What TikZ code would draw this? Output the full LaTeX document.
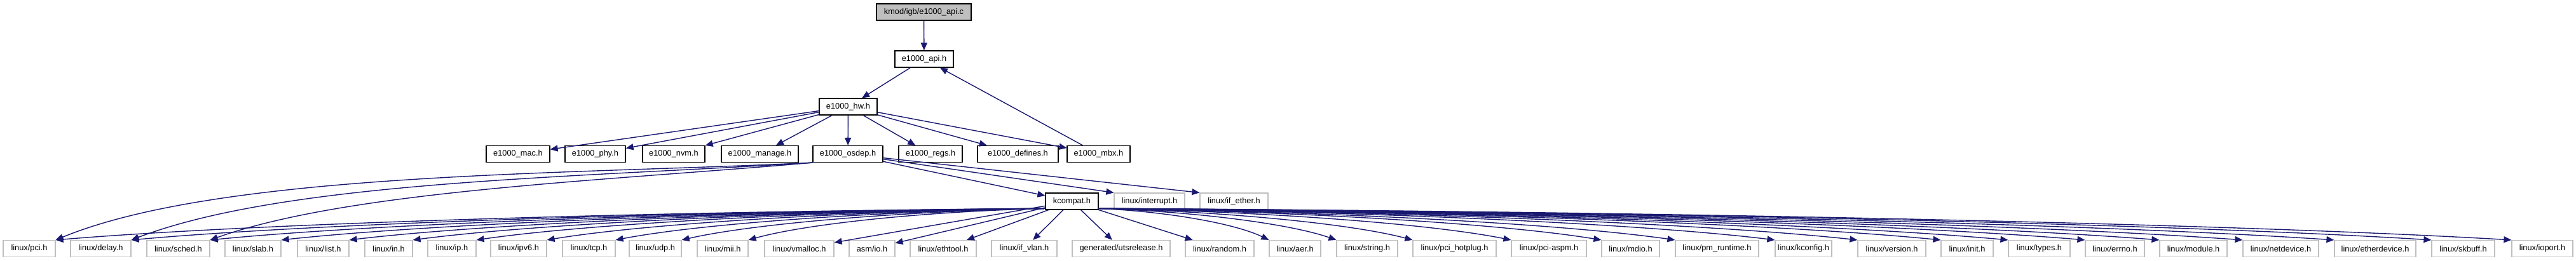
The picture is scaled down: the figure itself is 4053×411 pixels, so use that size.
\documentclass[tikz,border=0pt]{standalone}
\usepackage{fontspec}
\setmainfont{Liberation Sans}
\usetikzlibrary{arrows.meta}
\definecolor{edgecol}{HTML}{191970}
\definecolor{greyc}{HTML}{BFBFBF}
\tikzset{
  base/.style={rectangle, inner sep=0pt, minimum height=13pt, font=\fontsize{6.4pt}{7pt}\selectfont, fill=white},
  mainbox/.style={base, draw=black, line width=0.6pt, fill=greyc},
  doc/.style={base, draw=black, line width=0.6pt},
  undoc/.style={base, draw=greyc, line width=0.6pt},
  edge/.style={draw=edgecol, line width=0.7pt, -{Triangle[length=6pt,width=5pt]}, edgecol}
}
\begin{document}
\begin{tikzpicture}[x=0.5pt, y=-0.5pt]
\useasboundingbox (0,0) rectangle (4053,411);
% top
\node[mainbox, minimum width=74.5pt] (kmod) at (1453.5,19) {kmod/igb/e1000\_api.c};
\node[doc, minimum width=46pt] (api) at (1454,93) {e1000\_api.h};
\node[doc, minimum width=45.5pt] (hw) at (1334.5,168) {e1000\_hw.h};
% row 3
\node[doc, minimum width=50pt] (mac) at (815,242.5) {e1000\_mac.h};
\node[doc, minimum width=47.5pt] (phy) at (936.5,242.5) {e1000\_phy.h};
\node[doc, minimum width=49pt] (nvm) at (1060,242.5) {e1000\_nvm.h};
\node[doc, minimum width=60.5pt] (manage) at (1195.5,242.5) {e1000\_manage.h};
\node[doc, minimum width=55pt] (osdep) at (1334,242.5) {e1000\_osdep.h};
\node[doc, minimum width=50pt] (regs) at (1464,242.5) {e1000\_regs.h};
\node[doc, minimum width=63.5pt] (defines) at (1601.5,242.5) {e1000\_defines.h};
\node[doc, minimum width=49.5pt] (mbx) at (1728.5,242.5) {e1000\_mbx.h};
% row 4
\node[doc, minimum width=41.5pt] (kc) at (1686.5,317) {kcompat.h};
\node[undoc, minimum width=55.5pt] (interrupt) at (1808.5,317) {linux/interrupt.h};
\node[undoc, minimum width=53.5pt] (ifether) at (1941.5,317) {linux/if\_ether.h};
% bottom row
\node[undoc, minimum width=41pt] (pci) at (46,391.5) {linux/pci.h};
\node[undoc, minimum width=47.5pt] (delay) at (158.5,391.5) {linux/delay.h};
\node[undoc, minimum width=49.5pt] (sched) at (280.5,391.5) {linux/sched.h};
\node[undoc, minimum width=44pt] (slab) at (398,391.5) {linux/slab.h};
\node[undoc, minimum width=40.5pt] (list) at (508.5,391.5) {linux/list.h};
\node[undoc, minimum width=37.5pt] (linin) at (611.5,391.5) {linux/in.h};
\node[undoc, minimum width=38pt] (ip) at (711,391.5) {linux/ip.h};
\node[undoc, minimum width=44pt] (ipv6) at (816,391.5) {linux/ipv6.h};
\node[undoc, minimum width=41.5pt] (tcp) at (926.5,391.5) {linux/tcp.h};
\node[undoc, minimum width=41pt] (udp) at (1031,391.5) {linux/udp.h};
\node[undoc, minimum width=40pt] (mii) at (1137,391.5) {linux/mii.h};
\node[undoc, minimum width=54.5pt] (vmalloc) at (1257.5,391.5) {linux/vmalloc.h};
\node[undoc, minimum width=36pt] (asmio) at (1372,391.5) {asm/io.h};
\node[undoc, minimum width=52pt] (ethtool) at (1484,391.5) {linux/ethtool.h};
\node[undoc, minimum width=51.5pt] (ifvlan) at (1611.5,391.5) {linux/if\_vlan.h};
\node[undoc, minimum width=77pt] (uts) at (1764,391.5) {generated/utsrelease.h};
\node[undoc, minimum width=54pt] (random) at (1919,391.5) {linux/random.h};
\node[undoc, minimum width=40.5pt] (aer) at (2037.5,391.5) {linux/aer.h};
\node[undoc, minimum width=48pt] (string) at (2151,391.5) {linux/string.h};
\node[undoc, minimum width=65.5pt] (hotplug) at (2288.5,391.5) {linux/pci\_hotplug.h};
\node[undoc, minimum width=59pt] (aspm) at (2437,391.5) {linux/pci-aspm.h};
\node[undoc, minimum width=45.5pt] (mdio) at (2565.5,391.5) {linux/mdio.h};
\node[undoc, minimum width=65.5pt] (pmrt) at (2701.5,391.5) {linux/pm\_runtime.h};
\node[undoc, minimum width=44.5pt] (kconfig) at (2837.5,391.5) {linux/kconfig.h};
\node[undoc, minimum width=53.5pt] (version) at (2976.5,391.5) {linux/version.h};
\node[undoc, minimum width=41pt] (init) at (3095,391.5) {linux/init.h};
\node[undoc, minimum width=48.5pt] (types) at (3208.5,391.5) {linux/types.h};
\node[undoc, minimum width=46.5pt] (errno) at (3327.5,391.5) {linux/errno.h};
\node[undoc, minimum width=53pt] (module) at (3451,391.5) {linux/module.h};
\node[undoc, minimum width=59.5pt] (netdev) at (3588.5,391.5) {linux/netdevice.h};
\node[undoc, minimum width=64pt] (etherdev) at (3737,391.5) {linux/etherdevice.h};
\node[undoc, minimum width=49.5pt] (skbuff) at (3875.5,391.5) {linux/skbuff.h};
\node[undoc, minimum width=48pt] (ioport) at (4000,391.5) {linux/ioport.h};
% edges top
\draw[edge] (kmod) -- (api);
\draw[edge] (api) -- (hw);
\draw[edge] (mbx) -- (api);
\foreach \n in {mac,phy,nvm,manage,osdep,regs,defines,mbx}
  \draw[edge] (hw) -- (\n);
% osdep edges
\draw[edge] (osdep) -- (kc);
\draw[edge] (osdep) -- (interrupt.north west);
\draw[edge] (osdep) -- (ifether.north west);
\draw[edge] (osdep.south west) .. controls (900,275) and (350,270) .. (pci.north east);
\draw[edge] (osdep.south west) .. controls (900,280) and (450,285) .. (delay.north east);
\draw[edge] (osdep.south west) .. controls (950,285) and (550,300) .. (sched.north east);
% kcompat edges
\foreach \n in {vmalloc,asmio,ethtool,ifvlan,uts,random}
  \draw[edge] (kc) -- (\n);
\foreach \n/\xe in {pci/87,delay/206,sched/330,slab/442,list/549,linin/649,ip/749,ipv6/860,tcp/968,udp/1072,mii/1177}{
  \pgfmathsetmacro\d{1645-\xe}
  \pgfmathsetmacro\ca{1645-0.4*\d}
  \pgfmathsetmacro\cb{\xe+0.2*\d}
  \draw[edge] (kc.195) .. controls (\ca,333) and (\cb,352) .. (\n.north east);
}
\foreach \n/\xw in {aer/1997,string/2103,hotplug/2223,aspm/2378,mdio/2520,pmrt/2636,kconfig/2793,version/2923,init/3054,types/3160,errno/3281,module/3398,netdev/3529,etherdev/3673,skbuff/3826,ioport/3952}{
  \pgfmathsetmacro\d{\xw-1728}
  \pgfmathsetmacro\ca{1728+0.4*\d}
  \pgfmathsetmacro\cb{\xw-0.2*\d}
  \draw[edge] (kc.-15) .. controls (\ca,333) and (\cb,352) .. (\n.north west);
}
\end{tikzpicture}
\end{document}
